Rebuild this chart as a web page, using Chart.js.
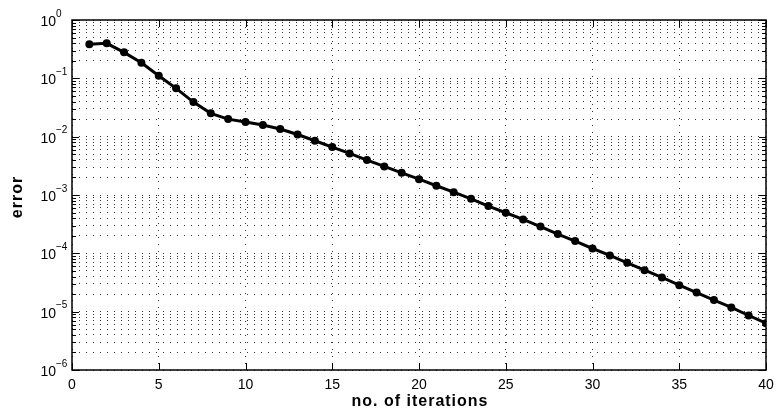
<!DOCTYPE html>
<html lang="en">
<head>
    <meta charset="UTF-8">
    <title>Error vs iterations</title>
    <script src="https://cdn.jsdelivr.net/npm/chart.js@4"></script>
    <style>
        body { margin: 0; background: #fff; }
    </style>
</head>
<body>
    <canvas id="errChart" width="777" height="416"></canvas>
    <script>
        // values
        const iterations = [1, 2, 3, 4, 5, 6, 7, 8, 9, 10, 11, 12, 13, 14, 15, 16, 17, 18, 19, 20,
                            21, 22, 23, 24, 25, 26, 27, 28, 29, 30, 31, 32, 33, 34, 35, 36, 37, 38, 39, 40];
        const errors = [0.383, 0.398, 0.279, 0.185, 0.111, 0.0673, 0.0392, 0.0251, 0.0200, 0.0178,
                        0.0158, 0.0135, 0.0109, 0.0085, 0.00664, 0.00516, 0.00397, 0.00309, 0.00240, 0.00187,
                        0.00144, 0.00112, 0.00086, 0.000646, 0.000496, 0.000381, 0.000287, 0.000214, 0.000162, 0.000121,
                        9.2e-5, 6.87e-5, 5.15e-5, 3.86e-5, 2.85e-5, 2.13e-5, 1.58e-5, 1.18e-5, 8.6e-6, 6.35e-6];
        const xTicks = [0, 5, 10, 15, 20, 25, 30, 35, 40];
        const decades = [-6, -5, -4, -3, -2, -1, 0];

        const font = '"Liberation Sans", Arial, sans-serif';

        // every 1..9 x 10^e for the log grid
        const logTicks = [];
        decades.forEach(e => {
            for (let k = 1; k <= 9; k++) {
                if (e === 0 && k > 1) break;
                logTicks.push({ value: k * Math.pow(10, e) });
            }
        });

        // frame, tick marks and labels drawn on top of the library's scales
        const axesPlugin = {
            id: 'matlabAxes',
            afterDraw(chart) {
                const c = chart.ctx;
                const a = chart.chartArea;
                const xs = chart.scales.x, ys = chart.scales.y;
                c.save();
                c.strokeStyle = '#000';
                c.lineWidth = 1;
                c.beginPath();
                xTicks.forEach(t => {
                    const px = Math.round(xs.getPixelForValue(t)) + 0.5;
                    c.moveTo(px, a.bottom); c.lineTo(px, a.bottom - 7);
                    c.moveTo(px, a.top); c.lineTo(px, a.top + 7);
                });
                logTicks.forEach(t => {
                    const py = Math.round(ys.getPixelForValue(t.value)) + 0.5;
                    const major = Math.abs(Math.log10(t.value) % 1) < 1e-9;
                    const len = major ? 7 : 4;
                    c.moveTo(a.left, py); c.lineTo(a.left + len, py);
                    c.moveTo(a.right, py); c.lineTo(a.right - len, py);
                });
                c.stroke();

                c.lineWidth = 1.5;
                c.strokeRect(a.left, a.top, a.right - a.left, a.bottom - a.top);

                c.fillStyle = '#000';
                c.font = '14px ' + font;
                c.textAlign = 'center';
                c.textBaseline = 'top';
                xTicks.forEach(t => c.fillText(String(t), xs.getPixelForValue(t), a.bottom + 8));

                decades.forEach(e => {
                    const py = ys.getPixelForValue(Math.pow(10, e));
                    c.font = '14px ' + font;
                    c.textAlign = 'right';
                    c.textBaseline = 'middle';
                    c.fillText('10', 56, py + 2);
                    c.font = '10px ' + font;
                    c.textAlign = 'left';
                    c.fillText(e === 0 ? '0' : '\u2212' + (-e), 56, py - 6);
                });

                c.font = 'bold 16px ' + font;
                c.letterSpacing = '1px';
                c.textAlign = 'center';
                c.textBaseline = 'middle';
                c.fillText('no. of iterations', (a.left + a.right) / 2 + 1, 402);
                c.translate(18, 197);
                c.rotate(-Math.PI / 2);
                c.fillText('error', 0, 0);
                c.restore();
            }
        };

        const ctx = document.getElementById('errChart').getContext('2d');
        const errChart = new Chart(ctx, {
            type: 'line',
            data: {
                datasets: [{
                    label: 'error',
                    data: iterations.map((it, i) => ({ x: it, y: errors[i] })),
                    borderColor: '#000',
                    backgroundColor: '#000',
                    borderWidth: 3,
                    pointRadius: 4,
                    pointBackgroundColor: '#000',
                    pointBorderWidth: 0,
                    fill: false,
                    tension: 0
                }]
            },
            options: {
                responsive: false,
                animation: false,
                layout: { padding: { left: 72, top: 20, right: 11, bottom: 46 } },
                plugins: { legend: { display: false }, tooltip: { enabled: false } },
                scales: {
                    x: {
                        type: 'linear',
                        min: 0,
                        max: 40,
                        afterBuildTicks: axis => { axis.ticks = xTicks.map(v => ({ value: v })); },
                        ticks: { display: false },
                        grid: { color: '#333', lineWidth: 1, drawTicks: false },
                        border: { display: false, dash: [1, 6] }
                    },
                    y: {
                        type: 'logarithmic',
                        min: 1e-6,
                        max: 1,
                        afterBuildTicks: axis => { axis.ticks = logTicks.map(t => ({ value: t.value })); },
                        ticks: { display: false },
                        grid: { color: '#333', lineWidth: 1, drawTicks: false },
                        border: { display: false, dash: [1, 6] }
                    }
                }
            },
            plugins: [axesPlugin]
        });
    </script>
</body>
</html>
